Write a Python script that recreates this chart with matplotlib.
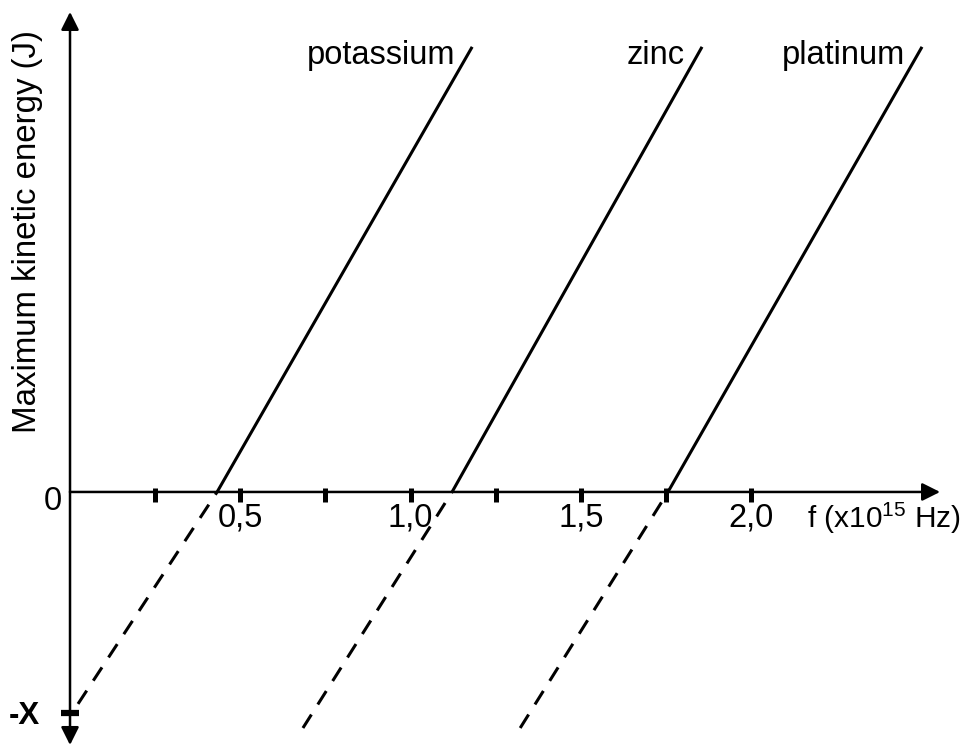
import matplotlib
matplotlib.use("Agg")
import matplotlib.pyplot as plt

plt.rcParams['font.family'] = ['Liberation Sans', 'DejaVu Sans']
plt.rcParams['mathtext.fontset'] = 'custom'
plt.rcParams['mathtext.rm'] = 'Liberation Sans'
plt.rcParams['mathtext.it'] = 'Liberation Sans'

# ---- data (f in 10^15 Hz, energy in units of X) ----
metals = ['potassium', 'zinc', 'platinum']
threshold_f = [0.432, 1.122, 1.756]
top_f = [1.181, 1.856, 2.502]
top_E = 2.014
dash_end_f = [0.0235, 0.684, 1.322]
dash_end_E = [-0.959, -1.068, -1.068]
tick_values = [0.25, 0.5, 0.75, 1.0, 1.25, 1.5, 1.75, 2.0]
labelled_ticks = [0.5, 1.0, 1.5, 2.0]
labelled_tick_text = ['0,5', '1,0', '1,5', '2,0']
minus_x_value = -1.0

FS = 23.5

fig = plt.figure(figsize=(9.69, 7.47), dpi=100)
ax = fig.add_axes([0, 0, 1, 1])
ax.set_xlim(-0.2056, 2.640)
ax.set_ylim(-1.154, 2.226)
ax.axis('off')

# axes with arrows
arrow_kw = dict(arrowstyle='-|>,head_length=0.4,head_width=0.2', lw=1.8,
                color='black', mutation_scale=27, shrinkA=0, shrinkB=0)
ax.annotate('', xy=(0, 2.172), xytext=(0, 0), arrowprops=arrow_kw)
ax.annotate('', xy=(0, -1.145), xytext=(0, 0), arrowprops=arrow_kw)
ax.annotate('', xy=(2.555, 0), xytext=(0, 0), arrowprops=arrow_kw)

# x ticks
ax.vlines(tick_values, -0.045, 0.018, colors='black', lw=3.6)
for v, t in zip(labelled_ticks, labelled_tick_text):
    ax.text(v, -0.118, t, ha='center', va='center', fontsize=FS)
ax.text(2.164, -0.118, r'f (x10$^{15}$ Hz)', ha='left', va='center', fontsize=21.5)

# y labels
ax.text(-0.025, -0.045, '0', ha='right', va='center', fontsize=FS)
ax.hlines(minus_x_value, -0.025, 0.025, colors='black', lw=4.5)
ax.text(-0.088, minus_x_value - 0.015, '-X', ha='right', va='center', fontsize=FS - 1,
        fontweight='bold')
ax.text(-0.125, 1.18, 'Maximum kinetic energy (J)', rotation=90, ha='center',
        va='center', fontsize=FS + 0.3)

# lines
for name, f0, ft, fd, Ed in zip(metals, threshold_f, top_f, dash_end_f, dash_end_E):
    ax.plot([f0, ft], [0, top_E], color='black', lw=2.2, solid_capstyle='butt')
    ax.plot([fd, f0], [Ed, 0], color='black', lw=2.2,
            linestyle=(0, (5.2, 3.9)), dash_capstyle='butt')
    ax.text(ft - 0.05, 1.935, name, ha='right', va='baseline', fontsize=FS)

fig.savefig('out.png', dpi=100)
